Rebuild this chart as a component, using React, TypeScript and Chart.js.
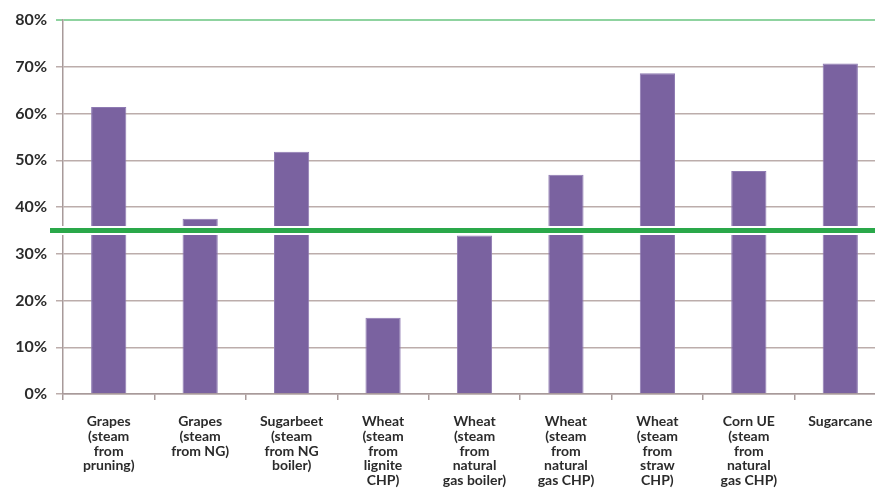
import React, { useEffect, useRef } from "react";
import { Chart, registerables } from "chart.js";

Chart.register(...registerables);

const categories: string[][] = [
  ["Grapes", "(steam", "from", "pruning)"],
  ["Grapes", "(steam", "from NG)"],
  ["Sugarbeet", "(steam", "from NG", "boiler)"],
  ["Wheat", "(steam", "from", "lignite", "CHP)"],
  ["Wheat", "(steam", "from", "natural", "gas boiler)"],
  ["Wheat", "(steam", "from", "natural", "gas CHP)"],
  ["Wheat", "(steam", "from", "straw", "CHP)"],
  ["Corn UE", "(steam", "from", "natural", "gas CHP)"],
  ["Sugarcane"],
];

const values: number[] = [61.4, 37.5, 51.8, 16.3, 33.9, 46.9, 68.6, 47.7, 70.7];

const threshold = 35;

const yTicks: number[] = [0, 10, 20, 30, 40, 50, 60, 70, 80];

const thresholdPlugin = {
  id: "thresholdLine",
  afterDatasetsDraw(chart: any) {
    const { ctx, scales } = chart;
    const y = scales.y.getPixelForValue(threshold);
    ctx.save();
    ctx.strokeStyle = "#ffffff";
    ctx.lineWidth = 9;
    ctx.beginPath();
    ctx.moveTo(50, y);
    ctx.lineTo(chart.width, y);
    ctx.stroke();
    ctx.strokeStyle = "#2aa84a";
    ctx.lineWidth = 5;
    ctx.beginPath();
    ctx.moveTo(50, y);
    ctx.lineTo(chart.width, y);
    ctx.stroke();
    ctx.restore();
  },
};

export default function App() {
  const ref = useRef<HTMLCanvasElement | null>(null);
  useEffect(() => {
    if (!ref.current) return;
    const chart = new Chart(ref.current, {
      type: "bar",
      data: {
        labels: categories,
        datasets: [
          {
            data: values,
            backgroundColor: "#7a62a0",
            borderColor: "#8e7ab2",
            borderWidth: 1,
            categoryPercentage: 1,
            barPercentage: 0.385,
          },
        ],
      },
      options: {
        animation: false,
        responsive: false,
        maintainAspectRatio: false,
        devicePixelRatio: 1,
        layout: { padding: { top: 20, right: 4, left: 0, bottom: 0 } },
        plugins: { legend: { display: false }, tooltip: { enabled: false } },
        scales: {
          x: {
            offset: true,
            grid: {
              offset: true,
              drawOnChartArea: false,
              drawTicks: true,
              tickLength: 6,
              color: "#a89a9a",
              lineWidth: 1.5,
            },
            border: { display: true, color: "#a89a9a", width: 1.5 },
            ticks: {
              color: "#2b2b2b",
              font: { family: "Lato", weight: "bold", size: 14, lineHeight: "14.8px" },
              padding: 14,
              maxRotation: 0,
              autoSkip: false,
            },
            afterFit(scale: any) {
              scale.height = 105;
            },
          },
          y: {
            min: 0,
            max: 80,
            afterBuildTicks(scale: any) {
              scale.ticks = yTicks.map((v) => ({ value: v }));
            },
            grid: {
              color: (c: any) => (c.tick && c.tick.value === 80 ? "#8fd3a0" : "#bcadab"),
              lineWidth: (c: any) => (c.tick && c.tick.value === 80 ? 2 : 1.5),
              tickLength: 7,
            },
            border: { display: true, color: "#a89a9a", width: 1.5 },
            ticks: {
              color: "#2b2b2b",
              font: { family: "Lato", weight: "bold", size: 16 },
              padding: 9,
              callback: (v: any) => v + "%",
            },
            afterFit(scale: any) {
              scale.width = 63;
            },
          },
        },
      },
      plugins: [thresholdPlugin],
    });
    return () => chart.destroy();
  }, []);
  return (
    <div style={{ position: "fixed", left: 0, top: 0, width: 875, height: 499, overflow: "hidden", background: "#fff" }}>
      <canvas ref={ref} width={890} height={499} style={{ display: "block" }} />
    </div>
  );
}
